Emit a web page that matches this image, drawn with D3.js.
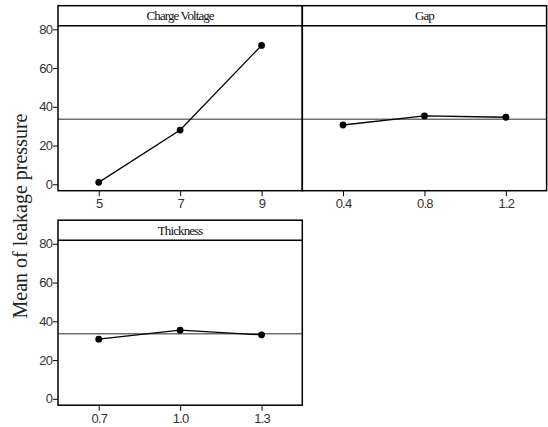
<!DOCTYPE html>
<html><head><meta charset="utf-8">
<script src="https://cdn.jsdelivr.net/npm/d3@7"></script>
<style>body{margin:0;background:#fff}svg{display:block}</style>
</head><body>
<script>
const factors = ["Charge Voltage", "Gap", "Thickness"];
const levels = [["5","7","9"], ["0.4","0.8","1.2"], ["0.7","1.0","1.3"]];
const means = [[1.0, 28.0, 71.7], [30.6, 35.3, 34.6], [30.8, 35.4, 33.0]];
const grandMean = 33.6;
const yTicks = [0, 20, 40, 60, 80];
const yTitle = "Mean of leakage pressure";

const W = 548, H = 427;
const svg = d3.select("body").append("svg").attr("width", W).attr("height", H);

const panelW = 244.3, left0 = 58;
const panels = [
  {x: left0, top: 5.7, col: 0, row: 0},
  {x: left0 + panelW, top: 5.7, col: 1, row: 0},
  {x: left0, top: 220.2, col: 0, row: 1}
];
const stripH = 20, totalH = 185;

panels.forEach((p, i) => {
  const g = svg.append("g").attr("transform", `translate(${p.x},${p.top})`);
  const x = d3.scalePoint().domain(levels[i]).range([0, panelW]).padding(0.5);
  // y scale: 0 at 178.6 from top, 80 at 23.6
  const y = d3.scaleLinear().domain([0, 80]).range([178.6, 23.6]);

  // grand mean line
  g.append("line").attr("x1", 0).attr("x2", panelW)
    .attr("y1", y(grandMean)).attr("y2", y(grandMean))
    .attr("stroke", "#707070").attr("stroke-width", 1.4);

  // data line
  const pts = levels[i].map((l, j) => [x(l), y(means[i][j])]);
  g.append("path").attr("d", d3.line()(pts)).attr("fill", "none")
    .attr("stroke", "#000").attr("stroke-width", 1.3);
  g.selectAll("circle.pt").data(pts).join("circle").attr("class", "pt")
    .attr("cx", d => d[0]).attr("cy", d => d[1]).attr("r", 3.4).attr("fill", "#000");

  // frame
  g.append("rect").attr("x", 0).attr("y", 0).attr("width", panelW).attr("height", totalH)
    .attr("fill", "none").attr("stroke", "#000").attr("stroke-width", 1.5);
  g.append("line").attr("x1", 0).attr("x2", panelW).attr("y1", stripH).attr("y2", stripH)
    .attr("stroke", "#000").attr("stroke-width", 1.5);
  g.append("text").attr("x", panelW / 2).attr("y", stripH / 2 + 4.5)
    .attr("text-anchor", "middle")
    .attr("font-family", "Liberation Serif, serif").attr("font-size", 13)
    .attr("letter-spacing", -0.9).attr("fill", "#111")
    .text(factors[i]);

  // x axis
  const xa = g.append("g").attr("transform", `translate(0,${totalH})`)
    .call(d3.axisBottom(x).tickSize(5.5).tickPadding(3));
  xa.select(".domain").remove();
  xa.selectAll("line").attr("stroke", "#000");
  xa.selectAll("text").attr("font-family", "Liberation Sans, Arial, sans-serif")
    .attr("font-size", 13).attr("letter-spacing", -0.8).attr("fill", "#333");

  // y axis on left column
  if (p.col === 0) {
    const ya = g.append("g").call(d3.axisLeft(y).tickValues(yTicks).tickSize(5).tickPadding(1));
    ya.select(".domain").remove();
    ya.selectAll("line").attr("stroke", "#000");
    ya.selectAll("text").attr("font-family", "Liberation Sans, Arial, sans-serif")
      .attr("font-size", 13).attr("letter-spacing", -0.9).attr("fill", "#333");
  }
});

svg.append("text")
  .attr("transform", "translate(27,216) rotate(-90)")
  .attr("text-anchor", "middle")
  .attr("font-family", "Liberation Serif, serif").attr("font-size", 20)
  .attr("fill", "#222")
  .text(yTitle);
</script>
</body></html>
